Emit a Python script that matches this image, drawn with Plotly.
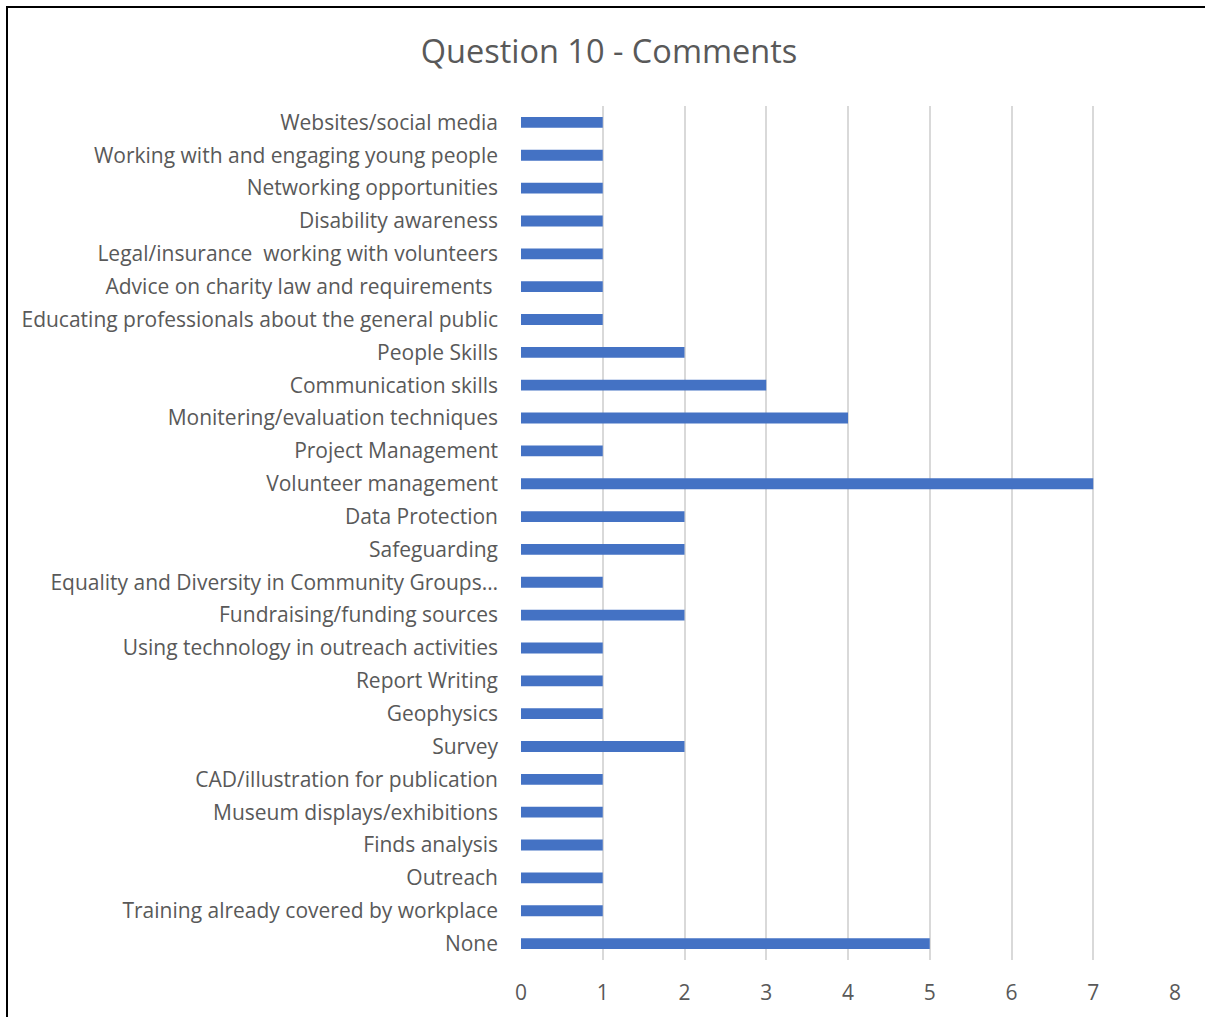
import plotly.graph_objects as go

# Survey responses, listed top to bottom as shown on the chart
categories = [
    "Websites/social media",
    "Working with and engaging young people",
    "Networking opportunities",
    "Disability awareness",
    "Legal/insurance  working with volunteers",
    "Advice on charity law and requirements ",
    "Educating professionals about the general public",
    "People Skills",
    "Communication skills",
    "Monitering/evaluation techniques",
    "Project Management",
    "Volunteer management",
    "Data Protection",
    "Safeguarding",
    "Equality and Diversity in Community Groups…",
    "Fundraising/funding sources",
    "Using technology in outreach activities",
    "Report Writing",
    "Geophysics",
    "Survey",
    "CAD/illustration for publication",
    "Museum displays/exhibitions",
    "Finds analysis",
    "Outreach",
    "Training already covered by workplace",
    "None",
]
counts = [1, 1, 1, 1, 1, 1, 1, 2, 3, 4, 1, 7, 2, 2, 1, 2, 1, 1, 1, 2, 1, 1, 1, 1, 1, 5]
x_ticks = [0, 1, 2, 3, 4, 5, 6, 7, 8]

W, H = 1205, 1017
L, R, T, B = 521, 30, 106, 57
pw, ph = W - L - R, H - T - B

font_family = "'Open Sans', Lato, sans-serif"
text_color = "#595959"

fig = go.Figure(
    go.Bar(
        x=counts,
        y=categories,
        orientation="h",
        marker=dict(color="#4472C4", line=dict(width=0)),
        width=0.33,
    )
)

# Outer frame of the chart area
fig.add_shape(
    type="rect",
    xref="paper", yref="paper",
    x0=(7 - L) / pw, x1=(W + 20 - L) / pw,
    y0=(H - B - (H + 20)) / ph, y1=(H - B - 7) / ph,
    line=dict(color="black", width=2),
    fillcolor="rgba(0,0,0,0)",
    layer="above",
)

fig.update_layout(
    width=W, height=H,
    margin=dict(l=L, r=R, t=T, b=B, autoexpand=False),
    paper_bgcolor="white",
    plot_bgcolor="white",
    title=dict(
        text="Question 10 - Comments",
        x=609 / W, xanchor="center",
        y=1 - 52 / H, yanchor="middle",
        font=dict(family=font_family, size=32.5, color=text_color),
    ),
    bargap=0.67,
    showlegend=False,
    xaxis=dict(
        range=[0, 8],
        tickvals=x_ticks,
        showgrid=True,
        gridcolor="#d9d9d9",
        gridwidth=2,
        zeroline=False,
        showline=False,
        ticks="",
        ticklabelstandoff=18,
        tickfont=dict(family=font_family, size=21, color=text_color),
    ),
    yaxis=dict(
        categoryorder="array",
        categoryarray=categories[::-1],
        autorange=False,
        range=[-0.5, len(categories) - 0.5],
        showgrid=False,
        zeroline=False,
        showline=False,
        ticks="",
        ticklabelstandoff=22,
        tickfont=dict(family=font_family, size=21, color=text_color),
    ),
)

fig.write_html("out.html")
